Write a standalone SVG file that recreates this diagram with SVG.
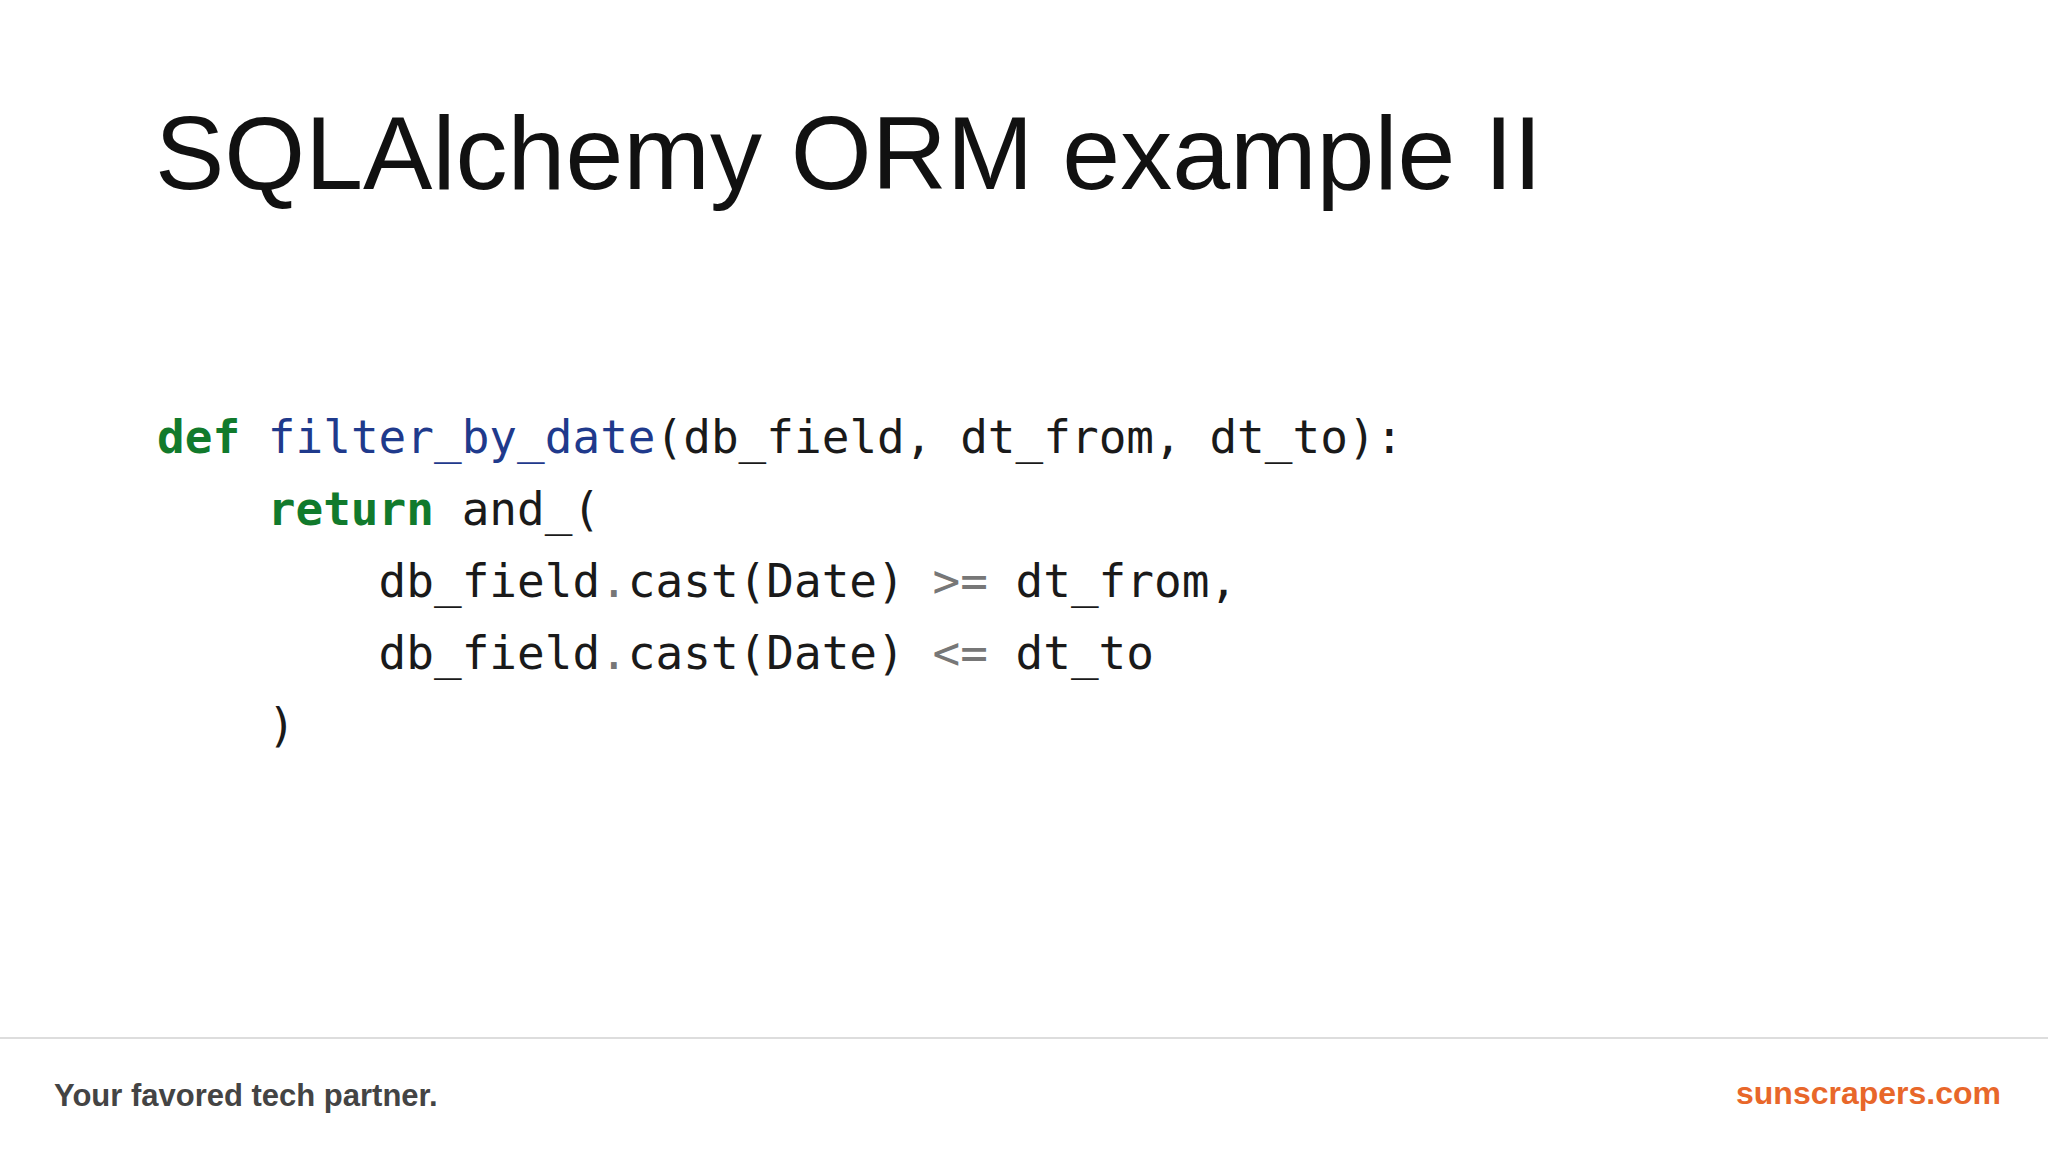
<svg xmlns="http://www.w3.org/2000/svg" width="2048" height="1152" viewBox="0 0 2048 1152">
<style>
.code{font-family:"DejaVu Sans Mono",monospace;font-size:46px;fill:#1a1a1a;white-space:pre}
.kw{fill:#117a2c;font-weight:bold}
.fn{fill:#1f3a8c}
.op{fill:#777}
</style>
<rect width="2048" height="1152" fill="#fff"/>
<g id="title"><text x="155" y="189" font-family="Liberation Sans, Arial, sans-serif" font-size="104" fill="#111">SQLAlchemy ORM example II</text></g>
<g id="code">
<text class="code" x="157" y="453" xml:space="preserve"><tspan class="kw">def</tspan> <tspan class="fn">filter_by_date</tspan>(db_field, dt_from, dt_to):</text>
<text class="code" x="157" y="525" xml:space="preserve">    <tspan class="kw">return</tspan> and_(</text>
<text class="code" x="157" y="597" xml:space="preserve">        db_field<tspan class="op">.</tspan>cast(Date) <tspan class="op">&gt;=</tspan> dt_from,</text>
<text class="code" x="157" y="669" xml:space="preserve">        db_field<tspan class="op">.</tspan>cast(Date) <tspan class="op">&lt;=</tspan> dt_to</text>
<text class="code" x="157" y="741" xml:space="preserve">    )</text>
</g>
<g id="footer">
<line x1="0" y1="1038" x2="2048" y2="1038" stroke="#ddd" stroke-width="2"/>
<text x="54" y="1106" font-family="Liberation Sans, Arial, sans-serif" font-size="31" font-weight="bold" fill="#444">Your favored tech partner.</text>
<text x="2001" y="1104" text-anchor="end" font-family="Liberation Sans, Arial, sans-serif" font-size="32" font-weight="bold" fill="#e8672a">sunscrapers.com</text>
</g>
</svg>
